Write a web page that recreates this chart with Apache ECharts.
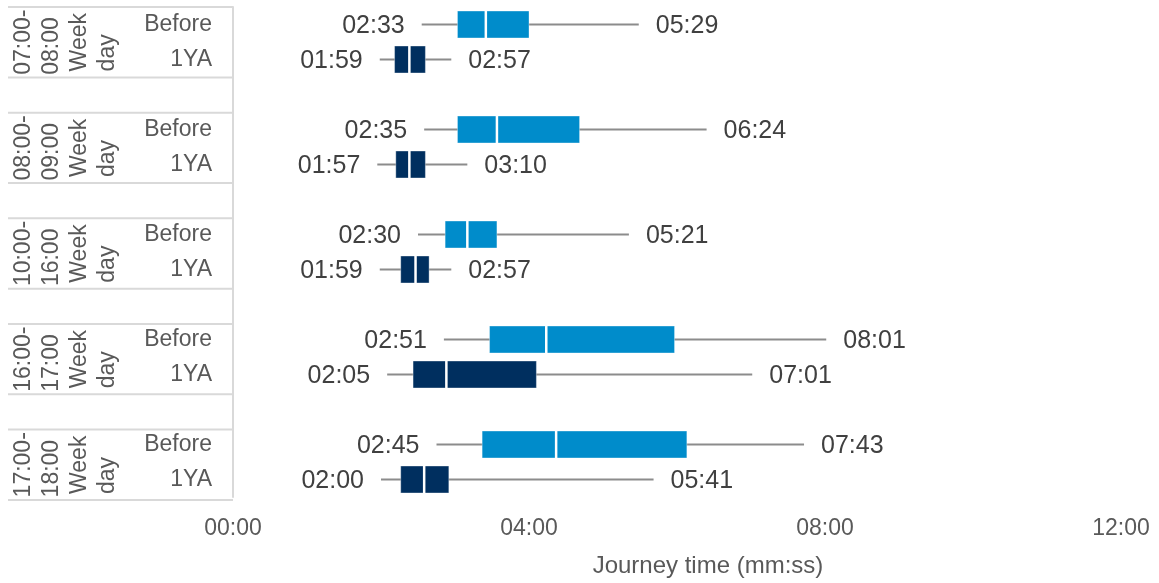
<!DOCTYPE html>
<html><head><meta charset="utf-8">
<script src="https://cdn.jsdelivr.net/npm/echarts@6/dist/echarts.min.js"></script>
<style>html,body{margin:0;padding:0;background:#fff}#c{width:1159px;height:583px}</style>
</head><body><div id="c"></div>
<script>
// ---- data ----
const groupLabels = ['07:00-\n08:00', '08:00-\n09:00', '10:00-\n16:00', '16:00-\n17:00', '17:00-\n18:00'];
const dayTypeLabel = 'Week\nday';
const rowLabels = ['Before','1YA','','Before','1YA','','Before','1YA','','Before','1YA','','Before','1YA'];
const beforeRows = [0, 3, 6, 9, 12];
const yaRows = [1, 4, 7, 10, 13];
// seconds
const beforeMin    = [153, 155, 150, 171, 165];
const beforeQ1     = [182, 182, 172, 208, 202];
const beforeMedian = [205, 214, 190, 254, 262];
const beforeQ3     = [240, 281, 214, 358, 368];
const beforeMax    = [329, 384, 321, 481, 463];
const yaMin    = [119, 117, 119, 125, 120];
const yaQ1     = [131, 132, 136, 146, 136];
const yaMedian = [143, 143, 148, 173, 155];
const yaQ3     = [156, 156, 159, 246, 175];
const yaMax    = [177, 190, 177, 421, 341];
const xTickValues = [0, 240, 480, 720];
const tableLines = [0, 2, 3, 5, 6, 8, 9, 11, 12, 14];
const xAxisName = 'Journey time (mm:ss)';

// ---- helpers ----
const FONT = 'Liberation Sans, Arial, sans-serif';
const pad = n => (n < 10 ? '0' : '') + n;
const fmt = s => pad(Math.floor(s / 60)) + ':' + pad(Math.round(s) % 60);
const mctx = document.createElement('canvas').getContext('2d');
function maxLineWidth(text, size) {
  mctx.font = size + 'px "Liberation Sans"';
  return Math.max.apply(null, text.split('\n').map(t => mctx.measureText(t).width));
}

function buildRows(rows, mn, q1, md, q3, mx) {
  return rows.map((r, i) => [r, mn[i], q1[i], md[i], q3[i], mx[i]]);
}

function boxRender(color) {
  return function (params, api) {
    const y = api.value(0);
    const v = [1, 2, 3, 4, 5].map(i => api.value(i));
    const px = v.map(val => api.coord([val, y])[0]);
    const cy = api.coord([v[0], y])[1];
    const band = api.size([0, 1])[1];
    const h = band * 0.77;
    return {
      type: 'group',
      children: [
        { type: 'line', shape: { x1: px[0], y1: cy, x2: px[4], y2: cy }, style: { stroke: '#8c8c8c', lineWidth: 2 } },
        { type: 'rect', shape: { x: px[1], y: cy - h / 2, width: px[3] - px[1], height: h },
          style: { fill: color, stroke: 'rgba(255,255,255,0.35)', lineWidth: 1 } },
        { type: 'line', shape: { x1: px[2], y1: cy - h / 2, x2: px[2], y2: cy + h / 2 }, style: { stroke: '#ffffff', lineWidth: 2.5 } },
        { type: 'text', x: px[0] - 17, y: cy + 2,
          style: { text: fmt(v[0]), align: 'right', verticalAlign: 'middle', fill: '#404040', fontSize: 25, fontFamily: FONT } },
        { type: 'text', x: px[4] + 17, y: cy + 2,
          style: { text: fmt(v[4]), align: 'left', verticalAlign: 'middle', fill: '#404040', fontSize: 25, fontFamily: FONT } }
      ]
    };
  };
}

function rotatedBlock(text, x, y) {
  const size = 23;
  const w = maxLineWidth(text, size);
  return {
    type: 'group', x: x, y: y, rotation: Math.PI / 2,
    children: [{
      type: 'text', x: -w / 2, y: 0,
      style: { text: text, align: 'left', verticalAlign: 'middle', lineHeight: 28,
               fill: '#595959', fontSize: size, fontFamily: FONT }
    }]
  };
}

const chart = echarts.init(document.getElementById('c'), null, { renderer: 'canvas' });
chart.setOption({
  backgroundColor: '#ffffff',
  animation: false,
  textStyle: { fontFamily: FONT },
  grid: [
    { left: 233, right: 38, top: 7, bottom: 83 },
    { left: 8, width: 225, top: 7, bottom: 83 }
  ],
  xAxis: [
    {
      gridIndex: 0, type: 'value', min: xTickValues[0], max: xTickValues[xTickValues.length - 1],
      interval: xTickValues[1] - xTickValues[0],
      axisLine: { show: false }, axisTick: { show: false }, splitLine: { show: false },
      axisLabel: { formatter: v => fmt(v), fontSize: 23, color: '#595959', margin: 20, fontFamily: FONT },
      name: xAxisName, nameLocation: 'middle', nameGap: 57,
      nameTextStyle: { fontSize: 24, color: '#595959', fontFamily: FONT, padding: [0, 0, 0, 62] }
    },
    { gridIndex: 1, type: 'value', min: 0, max: 1, show: false }
  ],
  yAxis: [
    {
      gridIndex: 0, type: 'category', data: rowLabels, inverse: true,
      axisLine: { show: true, lineStyle: { color: '#d9d9d9', width: 2 } },
      axisTick: { show: false }, splitLine: { show: false },
      axisLabel: { fontSize: 23, color: '#595959', margin: 21, fontFamily: FONT, padding: [4, 0, 0, 0] }
    },
    { gridIndex: 1, type: 'value', min: 0, max: 14, inverse: true, show: false }
  ],
  series: [
    {
      type: 'custom', name: 'table', xAxisIndex: 1, yAxisIndex: 1, silent: true,
      data: tableLines.map(b => [b]),
      encode: { y: 0 },
      renderItem: function (params, api) {
        const b = api.value(0);
        const p0 = api.coord([0, b]), p1 = api.coord([1, b]);
        return { type: 'line', shape: { x1: p0[0], y1: p0[1], x2: p1[0], y2: p1[1] },
                 style: { stroke: '#d9d9d9', lineWidth: 2 } };
      }
    },
    {
      type: 'custom', name: 'groups', xAxisIndex: 1, yAxisIndex: 1, silent: true,
      data: beforeRows.map((r, i) => [r + 1, i]),
      encode: { y: 0 },
      renderItem: function (params, api) {
        const c = api.value(0);
        const p = api.coord([0, c]);
        const g = groupLabels[api.value(1)];
        return { type: 'group', children: [
          rotatedBlock(g, p[0] + 30, p[1]),
          rotatedBlock(dayTypeLabel, p[0] + 86, p[1])
        ] };
      }
    },
    {
      type: 'custom', name: 'Before', xAxisIndex: 0, yAxisIndex: 0,
      data: buildRows(beforeRows, beforeMin, beforeQ1, beforeMedian, beforeQ3, beforeMax),
      encode: { y: 0, x: [1, 2, 3, 4, 5] },
      renderItem: boxRender('#008CCB')
    },
    {
      type: 'custom', name: '1YA', xAxisIndex: 0, yAxisIndex: 0,
      data: buildRows(yaRows, yaMin, yaQ1, yaMedian, yaQ3, yaMax),
      encode: { y: 0, x: [1, 2, 3, 4, 5] },
      renderItem: boxRender('#002F5F')
    }
  ]
});
</script>
</body></html>
